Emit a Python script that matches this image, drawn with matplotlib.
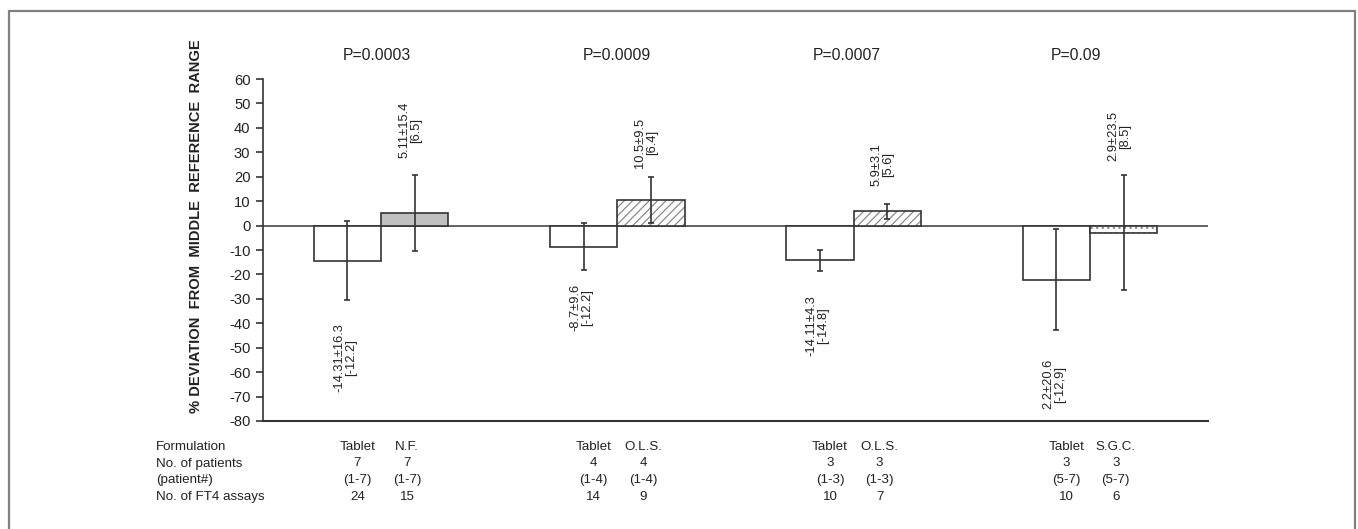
import matplotlib
matplotlib.use("Agg")
import matplotlib.pyplot as plt
import matplotlib.transforms as mtransforms
from matplotlib.patches import Rectangle
import numpy as np

# values
tablet_mean = [-14.31, -8.7, -14.11, -22.2]
tablet_sd = [16.3, 9.6, 4.3, 20.6]
alt_mean = [5.11, 10.5, 5.9, -2.9]
alt_sd = [15.4, 9.5, 3.1, 23.5]

tablet_text = ["-14.31±16.3\n[-12.2]", "-8.7±9.6\n[-12.2]", "-14.11±4.3\n[-14.8]", "2.2±20.6\n[-12,9]"]
alt_text = ["5.11±15.4\n[6.5]", "10.5±9.5\n[6.4]", "5.9±3.1\n[5.6]", "2.9±23.5\n[8.5]"]
tablet_text_y = [-54, -33.5, -41, -65]
alt_text_y = [39, 34, 25, 36.5]

p_values = ["P=0.0003", "P=0.0009", "P=0.0007", "P=0.09"]

alt_names = ["N.F.", "O.L.S.", "O.L.S.", "S.G.C."]
n_patients = ["7", "4", "3", "3"]
patient_ids = ["(1-7)", "(1-4)", "(1-3)", "(5-7)"]
tablet_assays = ["24", "14", "10", "10"]
alt_assays = ["15", "9", "7", "6"]
row_names = ["Formulation", "No. of patients", "(patient#)", "No. of FT4 assays"]

plt.rcParams["font.family"] = ["Liberation Sans", "DejaVu Sans"]
plt.rcParams["hatch.linewidth"] = 0.9
plt.rcParams["axes.unicode_minus"] = False

fig = plt.figure(figsize=(13.58, 5.29), dpi=100)
ax = fig.add_axes([263 / 1358, 1 - 421 / 529, (1208 - 263) / 1358, (421 - 79) / 529])

x = np.arange(len(tablet_mean)) + 0.5
w = 0.285
xt = x - w / 2
xa = x + w / 2
dark = "#333333"

# tablet bars: plain white
ax.bar(xt, tablet_mean, w, facecolor="white", edgecolor=dark, linewidth=1.2, zorder=2)

# alternative formulations: gray fill, hatch, dots
fills = ["#c0c0c0", "white", "white", "white"]
hatches = [None, "////", "////", "..."]
for i in range(len(alt_mean)):
    ax.bar(xa[i], alt_mean[i], w, facecolor=fills[i], edgecolor="#8a8a8a",
           hatch=hatches[i], linewidth=0, zorder=2)
    ax.bar(xa[i], alt_mean[i], w, facecolor="none", edgecolor=dark,
           linewidth=1.2, zorder=3)

ax.errorbar(xt, tablet_mean, yerr=tablet_sd, fmt="none", ecolor=dark,
            elinewidth=1.2, capsize=2.5, capthick=1.2, zorder=4)
ax.errorbar(xa, alt_mean, yerr=alt_sd, fmt="none", ecolor=dark,
            elinewidth=1.2, capsize=2.5, capthick=1.2, zorder=4)

ax.axhline(0, color="#555555", linewidth=1.3, zorder=1)

for i in range(len(x)):
    ax.text(xt[i] - 0.01, tablet_text_y[i], tablet_text[i], rotation=90,
            ha="center", va="center", multialignment="center",
            fontsize=9.3, linespacing=1.0, color="#222222")
    ax.text(xa[i] - 0.02, alt_text_y[i], alt_text[i], rotation=90,
            ha="center", va="center", multialignment="center",
            fontsize=9.3, linespacing=1.0, color="#222222")

ax.set_xlim(0, 4)
ax.set_ylim(-80, 60)
ax.set_yticks(range(-80, 61, 10))
ax.tick_params(axis="y", direction="out", length=5, width=1.1, labelsize=10.6,
               pad=4, colors="#222222")
ax.set_xticks([])
ax.spines["top"].set_visible(False)
ax.spines["right"].set_visible(False)
ax.spines["left"].set_color(dark)
ax.spines["left"].set_linewidth(1.2)
ax.spines["bottom"].set_color(dark)
ax.spines["bottom"].set_linewidth(1.5)

fig.text(196 / 1358, 1 - 226 / 529, "% DEVIATION  FROM  MIDDLE  REFERENCE  RANGE",
         rotation=90, ha="center", va="center", fontsize=10.6, fontweight="bold",
         color="#222222")

# p values above each pair and table beneath
trans = mtransforms.blended_transform_factory(ax.transData, fig.transFigure)
p_shift = [-0.02, 0.0, -0.03, -0.06]
for i in range(len(x)):
    fig.text(x[i] + p_shift[i], 1 - 56 / 529, p_values[i], transform=trans,
             ha="center", va="center", fontsize=11.3, color="#222222")

row_y = [447, 463.5, 480, 497]
for r, name in enumerate(row_names):
    fig.text(156 / 1358, 1 - row_y[r] / 529, name, ha="left", va="center",
             fontsize=9.6, color="#222222")

for i in range(len(x)):
    left = x[i] - 0.1
    right = x[i] + 0.11
    col_left = ["Tablet", n_patients[i], patient_ids[i], tablet_assays[i]]
    col_right = [alt_names[i], n_patients[i], patient_ids[i], alt_assays[i]]
    for r in range(4):
        fig.text(left, 1 - row_y[r] / 529, col_left[r], transform=trans,
                 ha="center", va="center", fontsize=9.6, color="#222222")
        fig.text(right, 1 - row_y[r] / 529, col_right[r], transform=trans,
                 ha="center", va="center", fontsize=9.6, color="#222222")

# frame around the whole figure
fig.patches.append(Rectangle((9 / 1358, -0.05), (1355 - 9) / 1358, 1.05 - 11 / 529,
                             transform=fig.transFigure, fill=False,
                             edgecolor="#808080", linewidth=1.6))

fig.savefig("out.png", dpi=100)
